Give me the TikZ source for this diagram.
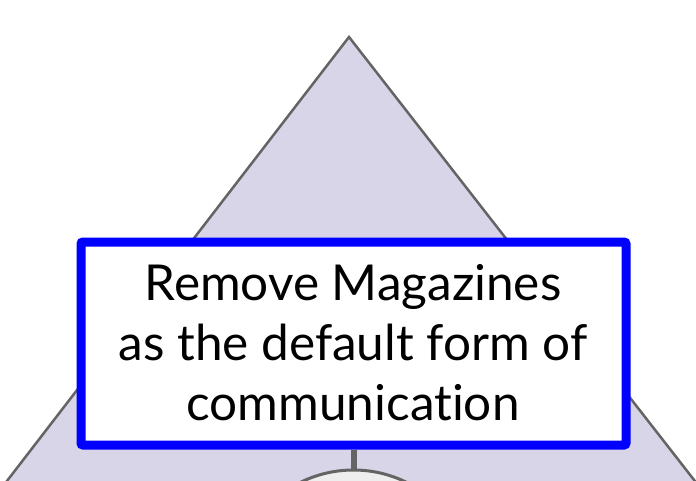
\documentclass[tikz,border=0pt]{standalone}
\usepackage{fontspec}
\setmainfont{Lato}[RawFeature={-liga;-dlig;-clig}]
\definecolor{trifill}{RGB}{217,213,232}
\definecolor{triline}{RGB}{100,100,100}
\definecolor{circfill}{RGB}{238,238,238}
\tikzset{
  tri/.style={fill=trifill,draw=triline,line width=2.5pt,line join=miter},
  goalbox/.style={draw=blue,fill=white,line width=9pt,rounded corners=2pt},
  stem/.style={draw=triline,line width=6pt},
  circ/.style={fill=circfill,draw=triline,line width=3pt},
  lbl/.style={font=\fontsize{49.5}{60}\selectfont,align=center,text=black}
}
\begin{document}
\begin{tikzpicture}[x=1pt,y=-1pt]
\useasboundingbox (0,0) rectangle (696,480);
\begin{scope}
\clip (0,0) rectangle (696,480);
\path[tri] (349,37) coordinate (apex) -- (-10,503) -- (712,503) -- cycle;
\node[circ,circle,minimum size=240pt,inner sep=0pt] (c) at (353.5,590) {};
\coordinate (ctop) at (353.5,470);
\node[goalbox,minimum width=545pt,minimum height=203pt,inner sep=0pt] (box) at (353.5,343.5) {};
\draw[stem] (box.south) -- (ctop);
\node[lbl] (t) at (353,343) {Remove Magazines\\as the default form of\\communication};
\end{scope}
\end{tikzpicture}
\end{document}
